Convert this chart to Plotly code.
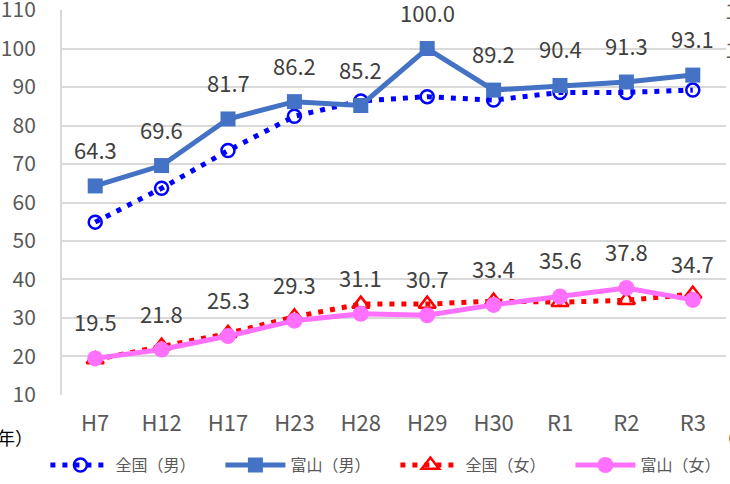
import plotly.graph_objects as go

categories = ["H7", "H12", "H17", "H23", "H28", "H29", "H30", "R1", "R2", "R3"]
national_male = [54.9, 63.7, 73.5, 82.4, 86.4, 87.5, 86.6, 88.6, 88.6, 89.2]
toyama_male = [64.3, 69.6, 81.7, 86.2, 85.2, 100.0, 89.2, 90.4, 91.3, 93.1]
national_female = [19.2, 22.7, 26.0, 30.3, 33.6, 33.6, 34.4, 34.1, 34.6, 36.2]
toyama_female = [19.5, 21.8, 25.3, 29.3, 31.1, 30.7, 33.4, 35.6, 37.8, 34.7]
series_names = ["全国（男）", "富山（男）", "全国（女）", "富山（女）"]
y_ticks = [10, 20, 30, 40, 50, 60, 70, 80, 90, 100, 110]

FONT = "Noto Sans CJK JP, Liberation Sans, sans-serif"
GRID = "#d9d9d9"
TXT = "#595959"

fig = go.Figure()
fig.add_trace(go.Scatter(
    x=categories, y=national_male, name=series_names[0], mode="lines+markers",
    line=dict(color="#0000FF", width=5, dash="5px,7px"),
    marker=dict(symbol="circle-open", size=13, color="#0000FF", line=dict(width=2.5, color="#0000FF")),
))
fig.add_trace(go.Scatter(
    x=categories, y=toyama_male, name=series_names[1], mode="lines+markers",
    line=dict(color="#4472C4", width=5),
    marker=dict(symbol="square", size=15, color="#4472C4"),
))
fig.add_trace(go.Scatter(
    x=categories, y=national_female, name=series_names[2], mode="lines+markers",
    line=dict(color="#FF0000", width=5, dash="5px,7px"),
    marker=dict(symbol="triangle-up-open", size=15, color="#FF0000", line=dict(width=2.5, color="#FF0000")),
))
fig.add_trace(go.Scatter(
    x=categories, y=toyama_female, name=series_names[3], mode="lines+markers",
    line=dict(color="#FF70FF", width=5),
    marker=dict(symbol="circle", size=16, color="#FF70FF"),
))

annotations = []
for vals in (toyama_male, toyama_female):
    for c, v in zip(categories, vals):
        annotations.append(dict(
            x=c, y=v, xref="x", yref="y", text=f"{v:.1f}", showarrow=False,
            yshift=37, font=dict(family=FONT, size=22, color="#404040"),
        ))

# texts cut by the edges of the original picture
annotations.append(dict(x=-0.041, y=-0.109, xref="paper", yref="paper", text="（年）",
                        xanchor="right", yanchor="middle", showarrow=False,
                        font=dict(family=FONT, size=18, color="#000000")))
annotations.append(dict(x=0.983, y=-0.109, xref="paper", yref="paper", text="（年）",
                        xanchor="left", yanchor="middle", showarrow=False,
                        font=dict(family=FONT, size=18, color="#000000")))
for v in (110, 100):
    annotations.append(dict(x=1.054, y=v, xref="paper", yref="y", text=str(v),
                            xanchor="right", yanchor="middle", showarrow=False,
                            font=dict(family=FONT, size=21, color=TXT)))

fig.update_layout(
    width=730, height=484,
    margin=dict(l=62, r=4, t=10, b=89, autoexpand=False),
    paper_bgcolor="white", plot_bgcolor="white",
    font=dict(family=FONT, color=TXT),
    showlegend=True,
    legend=dict(orientation="h", xref="paper", yref="paper",
                x=-0.025, y=-0.182, xanchor="left", yanchor="middle",
                font=dict(family=FONT, size=16, color=TXT), itemwidth=60,
                entrywidth=100, entrywidthmode="pixels",
                bgcolor="rgba(0,0,0,0)", tracegroupgap=0),
    annotations=annotations,
)
fig.update_xaxes(type="category", range=[-0.5, 9.5], showgrid=False, showline=False,
                 zeroline=False, automargin=False,
                 ticks="", tickfont=dict(family=FONT, size=22, color=TXT),
                 ticklabelstandoff=13)
fig.update_yaxes(range=[9.99, 110.01], tickvals=y_ticks, showgrid=True, gridcolor=GRID, gridwidth=2,
                 showline=True, linecolor=GRID, linewidth=2, zeroline=False, automargin=False,
                 ticks="", tickfont=dict(family=FONT, size=21, color=TXT),
                 ticklabelstandoff=20, ticklabeloverflow="allow")

fig.write_html("out.html", config={"displayModeBar": False},
               post_script="document.body.style.margin='0px';")
